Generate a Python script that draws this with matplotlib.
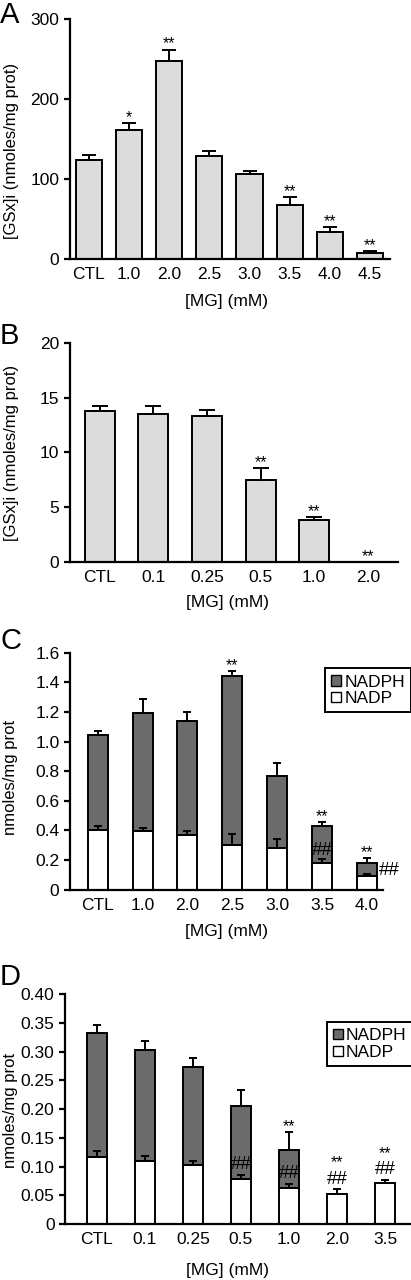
import numpy as np
import matplotlib.pyplot as plt
from matplotlib.patches import Patch

plt.rcParams['font.family'] = ['Liberation Sans', 'DejaVu Sans']

# panel A: [GSx]i vs MG
a_labels = ['CTL', '1.0', '2.0', '2.5', '3.0', '3.5', '4.0', '4.5']
a_gsx = [123, 161, 248, 128, 106, 67, 33, 7]
a_err = [7, 9, 14, 7, 4, 10, 7, 3]
a_sig = ['', '*', '**', '', '', '**', '**', '**']

# panel B
b_labels = ['CTL', '0.1', '0.25', '0.5', '1.0', '2.0']
b_gsx = [13.76, 13.55, 13.36, 7.52, 3.87, 0.0]
b_err = [0.45, 0.70, 0.50, 1.06, 0.21, 0.0]
b_sig = ['', '', '', '**', '**', '**']

# panel C: NADP / NADPH
c_labels = ['CTL', '1.0', '2.0', '2.5', '3.0', '3.5', '4.0']
c_nadp = [0.400, 0.394, 0.367, 0.304, 0.284, 0.180, 0.090]
c_nadp_err = [0.027, 0.020, 0.027, 0.070, 0.056, 0.029, 0.018]
c_nadph = [0.646, 0.801, 0.774, 1.136, 0.486, 0.248, 0.090]
c_tot_err = [0.023, 0.094, 0.058, 0.034, 0.087, 0.031, 0.036]
c_sig = ['', '', '', '**', '', '**', '**']

# panel D
d_labels = ['CTL', '0.1', '0.25', '0.5', '1.0', '2.0', '3.5']
d_nadp = [0.117, 0.109, 0.103, 0.078, 0.063, 0.053, 0.072]
d_nadp_err = [0.010, 0.009, 0.006, 0.007, 0.006, 0.007, 0.005]
d_nadph = [0.216, 0.194, 0.171, 0.128, 0.065, 0.0, 0.0]
d_tot_err = [0.013, 0.016, 0.015, 0.027, 0.033, 0.0, 0.0]

LIGHT = '#dcdcdc'
DARK = '#6b6b6b'
LW = 1.4
TICK_FS = 12.5
STAR_FS = 11.5
HASH_FS = 13.5


def style(ax, ylim, yticks, yticklabels, ylabel, xlab_pos, ylab_pos):
    for s in ['top', 'right']:
        ax.spines[s].set_visible(False)
    for s in ['left', 'bottom']:
        ax.spines[s].set_linewidth(1.6)
    ax.set_ylim(*ylim)
    ax.set_yticks(yticks)
    ax.set_yticklabels(yticklabels)
    ax.tick_params(axis='y', length=4, width=1.6, pad=3.5, labelsize=TICK_FS)
    ax.tick_params(axis='x', length=0, pad=6, labelsize=TICK_FS)
    ax.set_xlabel('[MG] (mM)', fontsize=12.5)
    ax.set_ylabel(ylabel, fontsize=12)
    ax.xaxis.set_label_coords(*xlab_pos)
    ax.yaxis.set_label_coords(*ylab_pos)


def up_err(ax, x, top, err, cap):
    ax.errorbar(x, top, yerr=[np.zeros(len(err)), err], fmt='none',
                ecolor='black', elinewidth=LW, capsize=cap, capthick=LW)


def legend(ax, anchor):
    handles = [Patch(facecolor=DARK, edgecolor='black', linewidth=1),
               Patch(facecolor='white', edgecolor='black', linewidth=1)]
    leg = ax.legend(handles, ['NADPH', 'NADP'], loc='upper left',
                    bbox_to_anchor=anchor, fontsize=12.5, frameon=True,
                    fancybox=False, handlelength=0.55, handleheight=0.55,
                    handletextpad=0.2, borderpad=0.35, labelspacing=0.1,
                    borderaxespad=0)
    leg.get_frame().set_edgecolor('black')
    leg.get_frame().set_linewidth(1.4)
    leg.get_frame().set_alpha(1)


fig = plt.figure(figsize=(4.11, 12.8), dpi=100)

# ---- A
axA = fig.add_axes([0.170, 0.798, 0.779, 0.187])
x = np.arange(len(a_labels))
axA.bar(x, a_gsx, width=0.65, color=LIGHT, edgecolor='black', linewidth=LW, zorder=2)
up_err(axA, x, a_gsx, a_err, 5)
for i, s in enumerate(a_sig):
    if s:
        axA.annotate(s, (x[i], a_gsx[i] + a_err[i]), xytext=(0, -1.5),
                     textcoords='offset points', ha='center', va='bottom', fontsize=STAR_FS)
axA.set_xlim(-0.475, 7.5)
axA.set_xticks(x)
axA.set_xticklabels(a_labels)
style(axA, (0, 300), [0, 100, 200, 300], ['0', '100', '200', '300'],
      '[GSx]i (nmoles/mg prot)', (0.49, -0.15), (-0.16, 0.45))

# ---- B
axB = fig.add_axes([0.170, 0.561, 0.798, 0.171])
x = np.arange(len(b_labels))
axB.bar(x, b_gsx, width=0.56, color=LIGHT, edgecolor='black', linewidth=LW, zorder=2)
up_err(axB, x[:-1], b_gsx[:-1], b_err[:-1], 5.5)
for i, s in enumerate(b_sig):
    if s:
        axB.annotate(s, (x[i], b_gsx[i] + b_err[i]), xytext=(0, -1.5),
                     textcoords='offset points', ha='center', va='bottom', fontsize=STAR_FS)
axB.set_xlim(-0.56, 5.56)
axB.set_xticks(x)
axB.set_xticklabels(b_labels)
style(axB, (0, 20), [0, 5, 10, 15, 20], ['0', '5', '10', '15', '20'],
      '[GSx]i (nmoles/mg prot)', (0.48, -0.15), (-0.156, 0.5))

# ---- C
axC = fig.add_axes([0.170, 0.305, 0.762, 0.185])
x = np.arange(len(c_labels))
c_tot = np.array(c_nadp) + np.array(c_nadph)
axC.bar(x, c_nadp, width=0.445, color='white', edgecolor='black', linewidth=LW, zorder=2)
axC.bar(x, c_nadph, bottom=c_nadp, width=0.445, color=DARK, edgecolor='black',
        linewidth=LW, zorder=2)
up_err(axC, x, c_nadp, c_nadp_err, 3)
up_err(axC, x, c_tot, c_tot_err, 3)
for i, s in enumerate(c_sig):
    if s:
        axC.annotate(s, (x[i], c_tot[i] + c_tot_err[i]), xytext=(0, -1.5),
                     textcoords='offset points', ha='center', va='bottom', fontsize=STAR_FS)
axC.text(x[5], 0.265, '##', ha='center', va='center', fontsize=HASH_FS, zorder=3)
axC.text(x[6] + 0.5, 0.126, '##', ha='center', va='center', fontsize=HASH_FS, zorder=3)
axC.set_xlim(-0.62, 6.36)
axC.set_xticks(x)
axC.set_xticklabels(c_labels)
style(axC, (0, 1.6), np.arange(0, 1.61, 0.2),
      ['0', '0.2', '0.4', '0.6', '0.8', '1.0', '1.2', '1.4', '1.6'],
      'nmoles/mg prot', (0.5, -0.146), (-0.165, 0.475))
legend(axC, (0.815, 0.934))

# ---- D
axD = fig.add_axes([0.158, 0.0438, 0.840, 0.1794])
x = np.arange(len(d_labels))
d_tot = np.array(d_nadp) + np.array(d_nadph)
axD.bar(x, d_nadp, width=0.42, color='white', edgecolor='black', linewidth=LW, zorder=2)
axD.bar(x[:5], d_nadph[:5], bottom=d_nadp[:5], width=0.42, color=DARK,
        edgecolor='black', linewidth=LW, zorder=2)
up_err(axD, x, d_nadp, d_nadp_err, 3)
up_err(axD, x[:5], d_tot[:5], d_tot_err[:5], 3)
axD.text(x[3], 0.103, '##', ha='center', va='center', fontsize=HASH_FS, zorder=3)
axD.text(x[4], 0.087, '##', ha='center', va='center', fontsize=HASH_FS, zorder=3)
axD.text(x[4], 0.170, '**', ha='center', va='center', fontsize=STAR_FS, zorder=3)
axD.text(x[5], 0.078, '##', ha='center', va='center', fontsize=HASH_FS, zorder=3)
axD.text(x[5], 0.106, '**', ha='center', va='center', fontsize=STAR_FS, zorder=3)
axD.text(x[6], 0.095, '##', ha='center', va='center', fontsize=HASH_FS, zorder=3)
axD.text(x[6], 0.122, '**', ha='center', va='center', fontsize=STAR_FS, zorder=3)
axD.set_xlim(-0.66, 6.52)
axD.set_xticks(x)
axD.set_xticklabels(d_labels)
style(axD, (0, 0.40), np.arange(0, 0.401, 0.05),
      ['0', '0.05', '0.10', '0.15', '0.20', '0.25', '0.30', '0.35', '0.40'],
      'nmoles/mg prot', (0.47, -0.17), (-0.135, 0.496))
legend(axD, (0.759, 0.879))

# panel letters
for letter, ytop in [('A', 1), ('B', 322), ('C', 627), ('D', 963)]:
    fig.text(0.0, 1 - ytop / 1280, letter, fontsize=21, ha='left', va='top')

fig.savefig('out.png', dpi=100)
